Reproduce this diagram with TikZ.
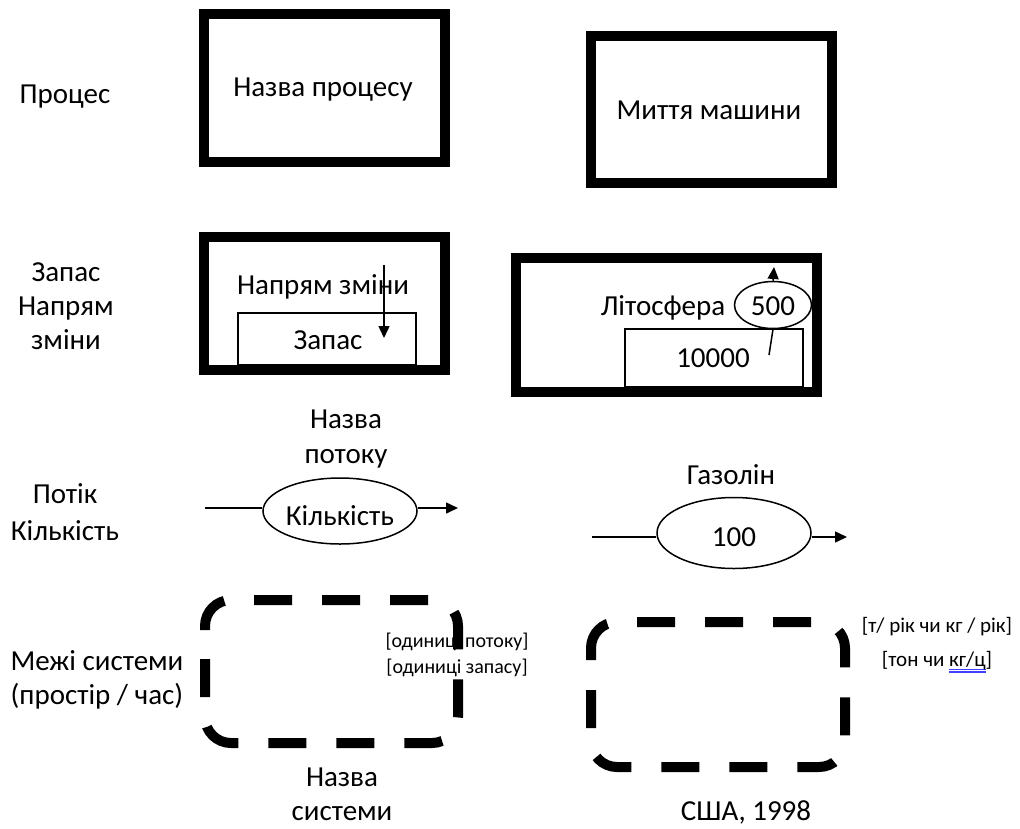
\documentclass[tikz,border=0pt]{standalone}
\usepackage{fontspec}
\setmainfont{Carlito}
\usetikzlibrary{arrows.meta,shapes.geometric}
\newsavebox\ulbox
\newcommand\blueul[1]{\sbox\ulbox{#1}\rlap{\color{blue!75}\rule[-3.5pt]{\wd\ulbox}{1.1pt}}\rlap{\color{blue!75}\rule[-6pt]{\wd\ulbox}{1.1pt}}\usebox\ulbox}
\begin{document}
\begin{tikzpicture}[x=1pt,y=-1pt,
  lbl/.style={font=\fontsize{29}{34}\selectfont, align=center, inner sep=0pt},
  small/.style={font=\fontsize{20}{26}\selectfont, align=center, inner sep=0pt},
  heavybox/.style={draw, line width=10pt, inner sep=0pt},
  thinbox/.style={draw, line width=1.5pt, inner sep=0pt},
  oval/.style={draw, ellipse, line width=1.5pt, inner sep=0pt},
  thinline/.style={line width=1.5pt},
  arr/.style={line width=1.5pt, -{Triangle[length=12pt,width=11pt]}},
  bound/.style={line width=10pt, dash pattern=on 38pt off 30pt, rounded corners=26pt}
]
\useasboundingbox (0,0) rectangle (1020,828);

% left labels
\node[lbl] (lproc) at (65,97) {Процес};
\node[lbl] (lstock) at (66,306) {Запас\\Напрям\\зміни};
\node[lbl, font=\fontsize{29}{37}\selectfont] (lflow) at (65,512) {Потік\\Кількість};
\node[lbl] (lbound) at (97,680) {Межі системи\\(простір / час)};

% process boxes
\node[heavybox, minimum width=241pt, minimum height=148pt] (p1) at (324.5,88) {};
\node[lbl] (p1t) at (323,90) {Назва процесу};
\node[heavybox, minimum width=241pt, minimum height=147pt] (p2) at (711.5,109.5) {};
\node[lbl] (p2t) at (709,110) {Миття машини};

% stock boxes
\node[heavybox, minimum width=241pt, minimum height=133pt] (s1) at (324.5,303.5) {};
\node[thinbox, minimum width=178pt, minimum height=52pt] (s1in) at (327,339) {};
\node[lbl] (s1lab) at (323,287) {Напрям зміни};
\node[lbl] (s1st) at (328,340) {Запас};
\coordinate (s1a) at (384,265);
\coordinate (s1b) at (384,338);
\draw[arr] (s1a) -- (s1b);

\node[heavybox, minimum width=301pt, minimum height=134pt] (s2) at (666.5,325) {};
\node[thinbox, minimum width=178pt, minimum height=58pt] (s2in) at (714,358) {};
\node[lbl] (s2lab) at (663,308) {Літосфера};
\node[lbl] (s2st) at (713,358) {10000};
\node[oval, fill=white, minimum width=77pt, minimum height=47pt] (s2f) at (773,305) {};
\node[lbl] (s2ft) at (773,306) {500};
\coordinate (s2top) at (774,267);
\coordinate (s2bot) at (769,355);
\draw[arr] (s2f.north) -- (s2top);
\draw[thinline] (s2bot) -- (s2f.south);

% flows
\node[lbl, font=\fontsize{29}{35}\selectfont] (f1name) at (346,439) {Назва\\потоку};
\node[oval, minimum width=154pt, minimum height=66pt] (f1) at (340,511) {};
\node[lbl] (f1t) at (340,516) {Кількість};
\coordinate (f1in) at (205,508);
\coordinate (f1out) at (458,508);
\draw[thinline] (f1in) -- (f1in -| f1.west);
\draw[arr] (f1out -| f1.east) -- (f1out);

\node[lbl] (f2name) at (731,475) {Газолін};
\node[oval, minimum width=154pt, minimum height=71pt] (f2) at (734,533) {};
\node[lbl] (f2t) at (734,537) {100};
\coordinate (f2in) at (592,537);
\coordinate (f2out) at (847,537);
\draw[thinline] (f2in) -- (f2in -| f2.west);
\draw[arr] (f2out -| f2.east) -- (f2out);

% system boundaries
\node[small] (b1u) at (457,655) {{[одиниці потоку]}\\{[одиниці запасу]}};
\draw[bound] (205,630) -- (205,600) -- (458,600) -- (458,743) -- (205,743) -- (205,630);
\node[lbl] (b1name) at (342,794) {Назва\\системи};

\node[small, font=\fontsize{21}{34}\selectfont] (b2u) at (937,645) {{[т/ рік чи кг / рік]}\\{[тон чи \blueul{кг/ц}]}};
\draw[bound] (591,655) -- (591,622) -- (845,622) -- (845,767) -- (591,767) -- (591,655);
\node[lbl] (b2name) at (746,812) {США, 1998};
\end{tikzpicture}
\end{document}
